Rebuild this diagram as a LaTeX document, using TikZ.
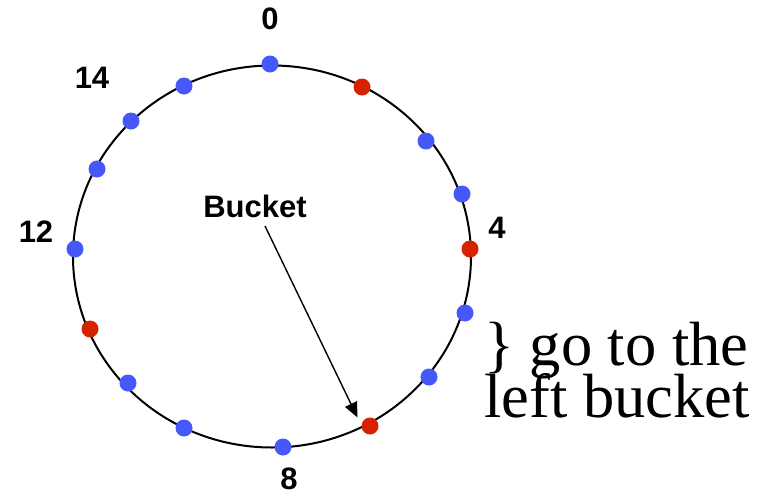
\documentclass[tikz,border=0pt]{standalone}
\usepackage{fontspec}
\setmainfont{Liberation Serif}
\newfontfamily\lsans{Liberation Sans}
\usetikzlibrary{arrows.meta}
\definecolor{dotblue}{RGB}{70,88,250}
\definecolor{dotred}{RGB}{214,34,0}
\tikzset{
  bdot/.style={circle,fill=dotblue,inner sep=0pt,minimum size=17pt},
  rdot/.style={circle,fill=dotred,inner sep=0pt,minimum size=17pt},
  lab/.style={font=\lsans\bfseries\fontsize{31}{31}\selectfont,inner sep=0pt},
  serif/.style={font=\fontsize{62.5}{52}\selectfont,inner sep=0pt,anchor=base west},
  arr/.style={line width=1.4pt,-{Triangle[length=15pt,width=13pt]}}
}
\begin{document}
\begin{tikzpicture}[x=1pt,y=-1pt]
\useasboundingbox (0,0) rectangle (769,491);
\fill[white] (0,0) rectangle (769,491);
\draw[line width=2pt] (272,256.5) ellipse [x radius=199, y radius=191];
% dots
\node[bdot] (d0)  at (270,64) {};
\node[rdot] (d1)  at (362,87) {};
\node[bdot] (d2)  at (426,141) {};
\node[bdot] (d3)  at (462,194) {};
\node[rdot] (d4)  at (470,249) {};
\node[bdot] (d5)  at (465,313) {};
\node[bdot] (d6)  at (429,377) {};
\node[rdot] (d7)  at (370,426) {};
\node[bdot] (d8)  at (283,447) {};
\node[bdot] (d9)  at (184,428) {};
\node[bdot] (d10) at (128,383) {};
\node[rdot] (d11) at (90,329) {};
\node[bdot] (d12) at (75,249) {};
\node[bdot] (d13) at (97,169) {};
\node[bdot] (d14) at (131,121) {};
\node[bdot] (d15) at (184,86) {};
% labels
\node[lab] (l0)  at (270,19) {0};
\node[lab] (l14) at (92,78) {14};
\node[lab] (l12) at (36,232) {12};
\node[lab] (l4)  at (497,228) {4};
\node[lab] (l8)  at (289,479) {8};
\node[lab] (bucket) at (255,206) {Bucket};
% arrow
\coordinate (astart) at (265,226);
\coordinate (atip) at (357.5,417.5);
\draw[arr] (astart) -- (atip);
% side text
\node[serif] (t1) at (484,365) {\} go to the};
\node[serif] (t2) at (484,417) {left bucket};
\end{tikzpicture}
\end{document}
